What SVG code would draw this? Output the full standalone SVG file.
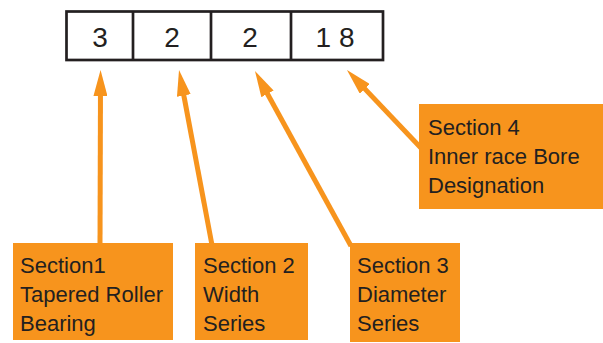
<svg xmlns="http://www.w3.org/2000/svg" width="603" height="343" viewBox="0 0 603 343">
<defs>
<style>
.cell{fill:#fff;stroke:#231f20;stroke-width:2.7}
.digit{font-family:"Liberation Sans Narrow","Liberation Sans",Arial,sans-serif;font-size:28px;fill:#231f20;text-anchor:middle}
.box{fill:#f7941d}
.lbl{font-family:"Liberation Sans",Arial,sans-serif;font-size:22px;fill:#231f20}
.conn{stroke:#f7941d;stroke-width:5;fill:none;marker-end:url(#ah)}
</style>
<marker id="ah" markerUnits="userSpaceOnUse" markerWidth="26" markerHeight="14" refX="11" refY="7" orient="auto">
<path d="M0,0 L26,7 L0,14 z" fill="#f7941d"/>
</marker>
</defs>
<rect width="603" height="343" fill="#fff"/>
<g id="code">
<rect class="cell" x="66.5" y="11.5" width="316.5" height="48.5"/>
<line x1="133" y1="11.5" x2="133" y2="60" stroke="#231f20" stroke-width="2.7"/>
<line x1="211" y1="11.5" x2="211" y2="60" stroke="#231f20" stroke-width="2.7"/>
<line x1="291" y1="11.5" x2="291" y2="60" stroke="#231f20" stroke-width="2.7"/>
<text class="digit" x="100" y="46.5">3</text>
<text class="digit" x="172" y="46.5">2</text>
<text class="digit" x="250" y="46.5">2</text>
<text class="digit" x="335" y="46.5">1 8</text>
</g>
<g id="connectors">
<line class="conn" x1="100" y1="245" x2="100.5" y2="85"/>
<line class="conn" x1="212" y1="245" x2="181.8" y2="84.7"/>
<line class="conn" x1="351" y1="246" x2="262.2" y2="84.2"/>
<line class="conn" x1="421" y1="148" x2="357.3" y2="80.9"/>
</g>
<g id="section1">
<rect class="box" x="13" y="243" width="160" height="97"/>
<text class="lbl" x="20" y="273">Section1</text>
<text class="lbl" x="20" y="302">Tapered Roller</text>
<text class="lbl" x="20" y="331">Bearing</text>
</g>
<g id="section2">
<rect class="box" x="195" y="243" width="113" height="97"/>
<text class="lbl" x="203" y="273">Section 2</text>
<text class="lbl" x="203" y="302">Width</text>
<text class="lbl" x="203" y="331">Series</text>
</g>
<g id="section3">
<rect class="box" x="350" y="243" width="110" height="99"/>
<text class="lbl" x="357" y="273">Section 3</text>
<text class="lbl" x="357" y="302">Diameter</text>
<text class="lbl" x="357" y="331">Series</text>
</g>
<g id="section4">
<rect class="box" x="419" y="104" width="184" height="105"/>
<text class="lbl" x="428" y="135">Section 4</text>
<text class="lbl" x="428" y="164">Inner race Bore</text>
<text class="lbl" x="428" y="193">Designation</text>
</g>
</svg>
